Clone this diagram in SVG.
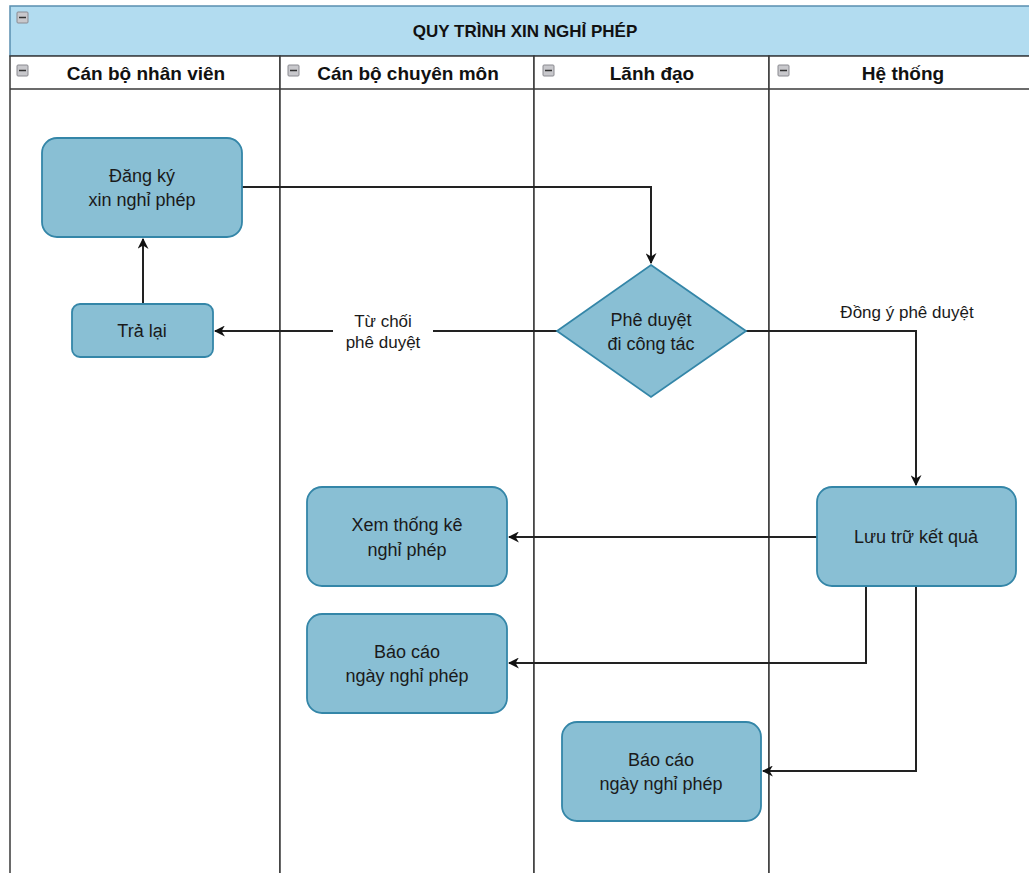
<svg xmlns="http://www.w3.org/2000/svg" width="1029" height="873" viewBox="0 0 1029 873">
  <defs>
    <style>
      .lane { fill: #ffffff; stroke: #3a3a3a; stroke-width: 1.5; }
      .pool-head { fill: #b2dcf0; stroke: #5a8fb0; stroke-width: 1.5; }
      .node { fill: #89bfd4; stroke: #3486a8; stroke-width: 1.8; }
      .edge { fill: none; stroke: #222222; stroke-width: 2; }
      .txt { font-family: "Liberation Sans", Arial, sans-serif; font-size: 18px; fill: #1a1a1a; text-anchor: middle; }
      .hd { font-family: "Liberation Sans", Arial, sans-serif; font-size: 19px; font-weight: bold; fill: #111111; text-anchor: middle; }
      .title { font-family: "Liberation Sans", Arial, sans-serif; font-size: 17px; font-weight: bold; fill: #111111; text-anchor: middle; }
      .lbl { font-family: "Liberation Sans", Arial, sans-serif; font-size: 17px; fill: #1a1a1a; text-anchor: middle; }
      .icon-box { fill: #c8c8cc; stroke: #8a8a90; stroke-width: 1; }
      .icon-bar { stroke: #333333; stroke-width: 1.5; }
    </style>
    <marker id="arrow" viewBox="0 0 10 10" refX="9" refY="5" markerWidth="11" markerHeight="11" markerUnits="userSpaceOnUse" orient="auto">
      <path d="M0,0 L10,5 L0,10 L3,5 Z" fill="#111111"/>
    </marker>
    <g id="collapse">
      <rect class="icon-box" x="0" y="0" width="11" height="11" rx="1"/>
      <line class="icon-bar" x1="2" y1="5.5" x2="9" y2="5.5"/>
    </g>
  </defs>

  <rect x="0" y="0" width="1029" height="873" fill="#ffffff"/>

  <!-- pool -->
  <g id="pool">
    <rect class="pool-head" x="10" y="6" width="1030" height="50"/>
    <use href="#collapse" x="17" y="12"/>
    <text class="title" x="525" y="37">QUY TRÌNH XIN NGHỈ PHÉP</text>
  </g>

  <!-- lanes -->
  <g id="lane-nhanvien">
    <rect class="lane" x="10" y="56" width="270" height="830"/>
    <line x1="10" y1="89" x2="280" y2="89" stroke="#3a3a3a" stroke-width="1.5"/>
    <use href="#collapse" x="17" y="65"/>
    <text class="hd" x="146" y="80">Cán bộ nhân viên</text>
  </g>
  <g id="lane-chuyenmon">
    <rect class="lane" x="280" y="56" width="254" height="830"/>
    <line x1="280" y1="89" x2="534" y2="89" stroke="#3a3a3a" stroke-width="1.5"/>
    <use href="#collapse" x="288" y="65"/>
    <text class="hd" x="408" y="80">Cán bộ chuyên môn</text>
  </g>
  <g id="lane-lanhdao">
    <rect class="lane" x="534" y="56" width="235" height="830"/>
    <line x1="534" y1="89" x2="769" y2="89" stroke="#3a3a3a" stroke-width="1.5"/>
    <use href="#collapse" x="543" y="65"/>
    <text class="hd" x="652" y="80">Lãnh đạo</text>
  </g>
  <g id="lane-hethong">
    <rect class="lane" x="769" y="56" width="280" height="830"/>
    <line x1="769" y1="89" x2="1049" y2="89" stroke="#3a3a3a" stroke-width="1.5"/>
    <use href="#collapse" x="778" y="65"/>
    <text class="hd" x="903" y="80">Hệ thống</text>
  </g>

  <!-- connectors -->
  <g id="connectors">
    <path class="edge" d="M242,187 H651 V263" marker-end="url(#arrow)"/>
    <path class="edge" d="M557,331 H215" marker-end="url(#arrow)"/>
    <path class="edge" d="M143,304 V239" marker-end="url(#arrow)"/>
    <path class="edge" d="M746,331 H916 V485" marker-end="url(#arrow)"/>
    <path class="edge" d="M817,537 H509" marker-end="url(#arrow)"/>
    <path class="edge" d="M866,586 V663 H509" marker-end="url(#arrow)"/>
    <path class="edge" d="M916,586 V771 H763" marker-end="url(#arrow)"/>
    <!-- edge labels -->
    <rect x="333" y="310" width="100" height="42" fill="#ffffff"/>
    <text class="lbl" x="383" y="327">Từ chối</text>
    <text class="lbl" x="383" y="348">phê duyệt</text>
    <text class="lbl" x="907" y="318">Đồng ý phê duyệt</text>
  </g>

  <!-- nodes -->
  <g id="dang-ky">
    <rect class="node" x="42" y="138" width="200" height="99" rx="15"/>
    <text class="txt" x="142" y="182">Đăng ký</text>
    <text class="txt" x="142" y="206">xin nghỉ phép</text>
  </g>
  <g id="tra-lai">
    <rect class="node" x="72" y="304" width="141" height="53" rx="8"/>
    <text class="txt" x="142" y="337">Trả lại</text>
  </g>
  <g id="phe-duyet">
    <polygon class="node" points="651,265 746,331 651,397 557,331"/>
    <text class="txt" x="651" y="326">Phê duyệt</text>
    <text class="txt" x="651" y="350">đi công tác</text>
  </g>
  <g id="luu-tru">
    <rect class="node" x="817" y="487" width="199" height="99" rx="15"/>
    <text class="txt" x="916" y="543">Lưu trữ kết quả</text>
  </g>
  <g id="xem-thong-ke">
    <rect class="node" x="307" y="487" width="200" height="99" rx="15"/>
    <text class="txt" x="407" y="531">Xem thống kê</text>
    <text class="txt" x="407" y="556">nghỉ phép</text>
  </g>
  <g id="bao-cao-1">
    <rect class="node" x="307" y="614" width="200" height="99" rx="15"/>
    <text class="txt" x="407" y="658">Báo cáo</text>
    <text class="txt" x="407" y="682">ngày nghỉ phép</text>
  </g>
  <g id="bao-cao-2">
    <rect class="node" x="562" y="722" width="199" height="99" rx="15"/>
    <text class="txt" x="661" y="766">Báo cáo</text>
    <text class="txt" x="661" y="790">ngày nghỉ phép</text>
  </g>
</svg>
